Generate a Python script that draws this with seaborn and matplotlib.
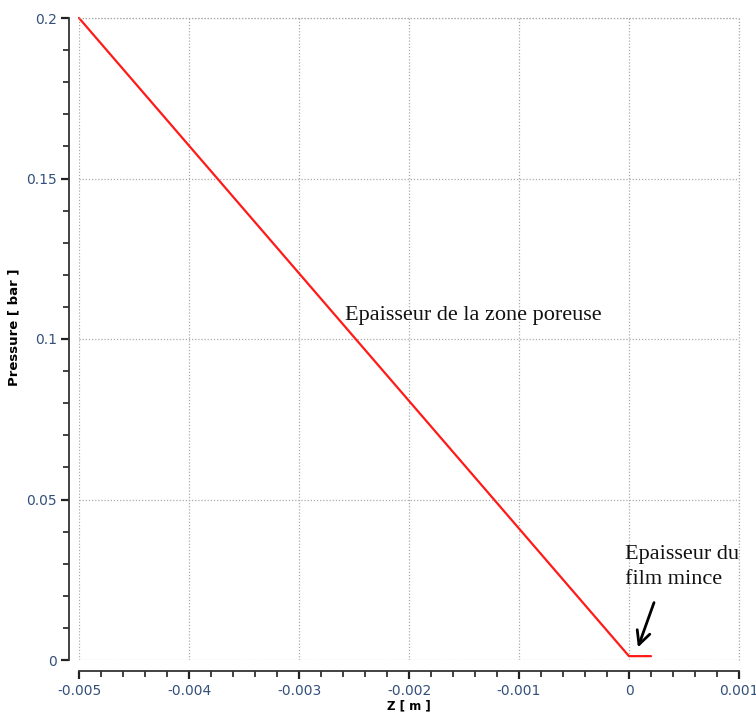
import matplotlib
matplotlib.use("Agg")
import matplotlib.pyplot as plt
import seaborn as sns
import numpy as np
import pandas as pd
from matplotlib.ticker import MultipleLocator

# Data
z_m = [-0.005, 0.0, 0.0002]
pressure_bar = [0.2, 0.0012, 0.0012]
x_ticks = [-0.005, -0.004, -0.003, -0.002, -0.001, 0, 0.001]
x_tick_labels = ["-0.005", "-0.004", "-0.003", "-0.002", "-0.001", "0", "0.001"]
y_ticks = [0, 0.05, 0.1, 0.15, 0.2]
y_tick_labels = ["0", "0.05", "0.1", "0.15", "0.2"]

df = pd.DataFrame({"Z": z_m, "P": pressure_bar})

sns.set_style("white")
fig = plt.figure(figsize=(7.56, 7.16), dpi=100)
ax = fig.add_axes([79/756, 1-660/716, 660/756, 642/716])

sns.lineplot(data=df, x="Z", y="P", color="#ff1a1a", linewidth=1.6,
             estimator=None, sort=False, ax=ax, clip_on=False)

ax.set_xlim(-0.005, 0.001)
ax.set_ylim(0, 0.2)
ax.set_xticks(x_ticks)
ax.set_xticklabels(x_tick_labels)
ax.set_yticks(y_ticks)
ax.set_yticklabels(y_tick_labels)
ax.xaxis.set_minor_locator(MultipleLocator(0.0002))
ax.yaxis.set_minor_locator(MultipleLocator(0.01))

for s in ["top", "right"]:
    ax.spines[s].set_visible(False)
ax.spines["left"].set_position(("outward", 7))
ax.spines["bottom"].set_position(("outward", 8))
for s in ["left", "bottom"]:
    ax.spines[s].set_color("#333333")
    ax.spines[s].set_linewidth(1.3)

ax.tick_params(axis="both", which="both", bottom=True, left=True, top=False, right=False)
ax.tick_params(axis="both", which="major", direction="out", length=6, width=1.6,
               color="#222222", labelsize=10, labelcolor="#34507a", pad=3)
ax.tick_params(axis="both", which="minor", direction="out", length=4, width=1.3,
               color="#333333")

ax.grid(True, which="major", linestyle=(0, (1, 1.5)), color="#aaaaaa", linewidth=0.9)
ax.axvline(0.001, linestyle=(0, (1, 1.5)), color="#aaaaaa", linewidth=0.9, clip_on=False)
ax.axhline(0.2, linestyle=(0, (1, 1.5)), color="#aaaaaa", linewidth=0.9, clip_on=False)

ax.set_xlabel("Z [ m ]", fontsize=8.5, fontweight="bold", color="black", labelpad=1)
ax.set_ylabel("Pressure [ bar ]", fontsize=9.5, fontweight="bold", color="black")
ax.yaxis.set_label_coords(-0.0894, 0.519)

ax.text(-0.002582, 0.1072, "Epaisseur de la zone poreuse", family="Liberation Serif",
        fontsize=16, va="center", ha="left", color="#111111")
ax.text(-0.0000364, 0.0358, "Epaisseur du\nfilm mince", family="Liberation Serif",
        fontsize=16, va="top", ha="left", color="#111111", linespacing=1.4)
ax.annotate("", xy=(0.0000727, 0.0031), xytext=(0.000236, 0.0187),
            arrowprops=dict(arrowstyle="->", color="black", lw=2, mutation_scale=24))

fig.savefig("out.png", dpi=100)
